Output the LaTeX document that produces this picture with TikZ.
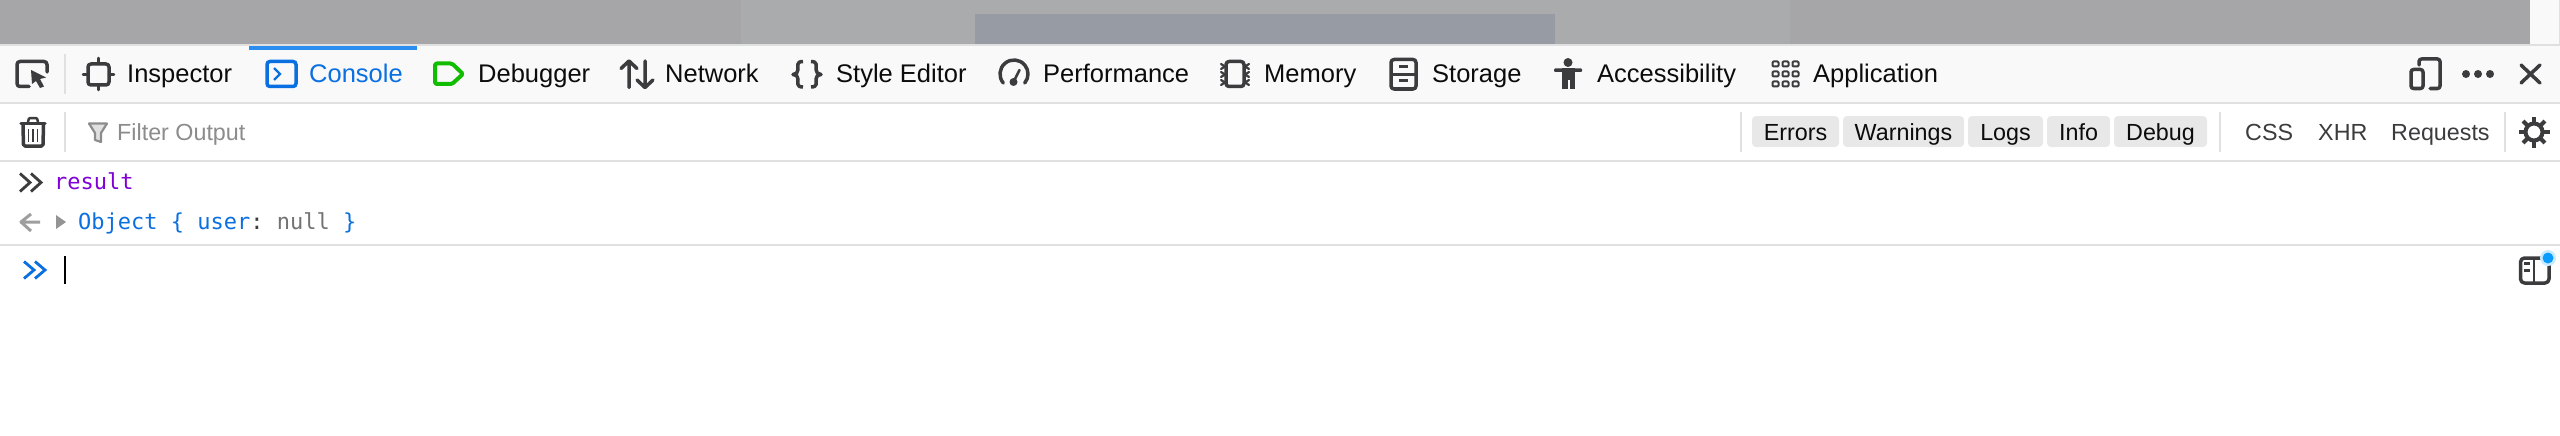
\documentclass[tikz,border=0pt]{standalone}
\usepackage{fontspec}
\setmainfont{Liberation Sans}
\setmonofont{DejaVu Sans Mono}
\definecolor{barbg}{HTML}{F9F9FA}
\definecolor{rulegray}{HTML}{E0E0E1}
\definecolor{icondark}{HTML}{3C3C3E}
\definecolor{tabtext}{HTML}{0C0C0D}
\definecolor{consoleblue}{HTML}{0A6FE0}
\definecolor{tabline}{HTML}{2A8DF0}
\definecolor{debuggreen}{HTML}{12BC00}
\definecolor{pagegray}{HTML}{AAABAD}
\definecolor{pagedark}{HTML}{A6A6A8}
\definecolor{pageblue}{HTML}{979BA3}
\definecolor{pillgray}{HTML}{E8E8E8}
\definecolor{purplekw}{HTML}{8000D7}
\definecolor{nullgray}{HTML}{737373}
\definecolor{dotblue}{HTML}{0A9DFF}
\definecolor{dothalo}{HTML}{C8EBFF}
\tikzset{
	tab/.style={anchor=base west, inner sep=0pt, text=tabtext, font=\fontsize{25.5}{28}\selectfont},
	filtertext/.style={anchor=base west, inner sep=0pt, text=icondark, font=\fontsize{23.3}{26}\selectfont},
	pill/.style={fill=pillgray, rounded corners=4pt, inner sep=0pt, minimum height=31pt, text=tabtext, text height=22pt, text depth=5pt, font=\fontsize{23.3}{26}\selectfont},
	codetext/.style={anchor=base west, inner sep=0pt, font=\ttfamily\fontsize{22}{26}\selectfont},
	icon/.style={draw=icondark, line width=3.5pt, line join=round, line cap=round},
	sep/.style={draw=rulegray, line width=2pt},
}
\begin{document}
\begin{tikzpicture}[x=1pt,y=-1pt]
		\useasboundingbox (0,0) rectangle (2560,436);
		\fill[white] (0,0) rectangle (2560,436);
		\fill[pagedark] (0,0) rectangle (2530,44);
		\fill[pagegray] (741,0) rectangle (1790,44);
		\fill[pageblue] (975,14) rectangle (1555,44);
		\fill[barbg] (2530,0) rectangle (2559,44);
		\fill[rulegray] (2559,0) rectangle (2560,44);
		\fill[barbg] (0,45) rectangle (2560,103);
		\draw[sep] (0,45) -- (2560,45);
		\draw[sep] (0,103) -- (2560,103);
		\draw[sep] (0,161) -- (2560,161);
		\draw[sep] (0,245) -- (2560,245);
		\fill[tabline] (249,46) rectangle (417,50);
		\draw[sep] (65,54) -- (65,94);
		\draw[sep] (65,112) -- (65,152);
		\draw[sep] (1741,112) -- (1741,152);
		\draw[sep] (2220,112) -- (2220,152);
		\draw[sep] (2505,112) -- (2505,152);

		\node at (127,83) [tab] (inspector) {Inspector};
		\node at (309,83) [tab, text=consoleblue] (console) {Console};
		\node at (478,83) [tab] (debugger) {Debugger};
		\node at (665,83) [tab] (network) {Network};
		\node at (836,83) [tab] (styleeditor) {Style Editor};
		\node at (1043,83) [tab] (performance) {Performance};
		\node at (1264,83) [tab] (memory) {Memory};
		\node at (1432,83) [tab] (storage) {Storage};
		\node at (1597,83) [tab] (accessibility) {Accessibility};
		\node at (1813,83) [tab] (application) {Application};

		\node at (117,140) [filtertext, text=black!45] (filter) {Filter Output};
		\node at (1795.5,131.5) [pill, minimum width=87pt] (errors) {Errors};
		\node at (1903.5,131.5) [pill, minimum width=121pt] (warnings) {Warnings};
		\node at (2005.5,131.5) [pill, minimum width=75pt] (logs) {Logs};
		\node at (2078.5,131.5) [pill, minimum width=63pt] (info) {Info};
		\node at (2160.5,131.5) [pill, minimum width=93pt] (debug) {Debug};
		\node at (2245,140) [filtertext] (css) {CSS};
		\node at (2318,140) [filtertext] (xhr) {XHR};
		\node at (2391,140) [filtertext] (requests) {Requests};

		\node at (54,189.3) [codetext, text=purplekw] (result) {result};
		\node at (78,229.3) [codetext, text=consoleblue] (object) {Object \{ user\textcolor{icondark}{:} \textcolor{nullgray}{null} \}};

		% toolbar icons
		\draw[icon, rounded corners=3pt] (29,86.5) -- (17,86.5) -- (17,61.5) -- (47,61.5) -- (47,72);
		\fill[icondark] (31,70) -- (46,77.5) -- (40,79) -- (44,86.5) -- (40,88) -- (36,81) -- (32,84) -- cycle;
		\draw[icon, rounded corners=3pt] (88,64) rectangle (109,85);
		\draw[icon, line width=2.5pt] (98.5,58) -- (98.5,64) (98.5,85) -- (98.5,90) (83,74.5) -- (88,74.5) (109,74.5) -- (114,74.5);
		\draw[draw=consoleblue, line width=3.5pt, rounded corners=3pt] (267,61.5) rectangle (296,86.5);
		\draw[draw=consoleblue, line width=2.2pt] (274,68) -- (280,74) -- (274,80);
		\draw[draw=debuggreen, line width=4pt, line join=round, rounded corners=1.5pt] (435,63.5) -- (452,63.5) -- (463,74) -- (452,84) -- (435,84) -- cycle;
		\draw[icon] (629,87.5) -- (629,62) (621,68.5) -- (629,61) -- (637,68.5);
		\draw[icon] (645,61) -- (645,86.5) (637,80) -- (645,87.5) -- (653,80);
		\draw[icon, line cap=butt] (803,61.5) .. controls (796,61.5) and (798,66) .. (798,69.5) .. controls (798,72.5) and (796,74.5) .. (793,74.5) .. controls (796,74.5) and (798,76) .. (798,79) .. controls (798,82.5) and (796,87) .. (803,87);
		\draw[icon, line cap=butt] (811,61.5) .. controls (818,61.5) and (816,66) .. (816,69.5) .. controls (816,72.5) and (818,74.5) .. (821,74.5) .. controls (818,74.5) and (816,76) .. (816,79) .. controls (816,82.5) and (818,87) .. (811,87);
		\draw[icon] (1014,74) ++(220:14pt) arc[start angle=220, end angle=-40, radius=14pt];
		\fill[icondark] (1013.5,82) circle (4pt);
		\draw[icon, line width=2.5pt] (1013.5,82) -- (1019.5,70);
		\draw[icon, rounded corners=3pt] (1226,61.5) rectangle (1244,86.5);
		\foreach \ylegs in {66.5,74.5,82.5}
			\draw[icon, line width=2.2pt] (1221,\ylegs-2.5) -- (1225,\ylegs) -- (1221,\ylegs+2.5) (1249,\ylegs-2.5) -- (1245,\ylegs) -- (1249,\ylegs+2.5);
		\draw[icon, rounded corners=3pt] (1391,59.5) rectangle (1416,89);
		\draw[icon, line width=3pt, line cap=butt] (1391,74.5) -- (1416,74.5);
		\draw[icon, line width=2.5pt, line cap=butt] (1399,66.7) -- (1408,66.7) (1399,80.5) -- (1408,80.5);
		\fill[icondark] (1568,62.5) circle (4.5pt);
		\fill[icondark, rounded corners=1pt] (1554,68.5) rectangle (1582,72);
		\fill[icondark] (1562,68.5) rectangle (1575,80);
		\fill[icondark] (1562,79) rectangle (1567.5,89);
		\fill[icondark] (1569.5,79) rectangle (1575,89);
		\foreach \xcell in {1772.5,1782.5,1792.5}
			\foreach \ycell in {61.5,71.5,81.5}
				\draw[icon, line width=2pt, rounded corners=1pt] (\xcell,\ycell) rectangle ++(6,5);
		\draw[icon, rounded corners=2.5pt] (2419,65) -- (2419,59) -- (2440,59) -- (2440,88.5) -- (2430,88.5);
		\draw[icon, rounded corners=2.5pt] (2411,69.5) rectangle (2423,88.5);
		\foreach \xdot in {2466,2478,2490}
			\fill[icondark] (\xdot,74) circle (4pt);
		\draw[icon] (2521,65) -- (2540,83) (2540,65) -- (2521,83);

		% filter row icons
		\draw[icon, line cap=butt, rounded corners=1.5pt] (23,125) -- (23.5,146) -- (43,146) -- (43.5,125);
		\draw[icon] (21,123.5) -- (45,123.5);
		\draw[icon, line width=2.5pt, rounded corners=1pt] (28,122) -- (29,118) -- (37,118) -- (38,122);
		\foreach \xbar in {28.5,33,37.5}
			\draw[icondark, line width=1.5pt] (\xbar,129) -- (\xbar,142);
		\draw[draw=black!45, fill=black!12, line width=2.2pt, line join=round] (89,123.5) -- (107,123.5) -- (101,133) -- (101,142) -- (95,140) -- (95,133) -- cycle;
		\draw[icondark, line width=4pt] (2534,132) circle (8.5pt);
		\foreach \agear in {0,45,...,315}
			\draw[icondark, line width=4pt] (2534,132) ++(\agear:9pt) -- ++(\agear:6.5pt);

		% console rows
		\foreach \xchev in {20,31}
			\draw[icon, line width=2.8pt, line cap=butt, line join=miter] (\xchev,173.5) -- (\xchev+10,182.5) -- (\xchev,191.5);
		\draw[draw=black!38, line width=3pt, line join=round] (40,222) -- (22,222) (31,214) -- (21,222) -- (31,231);
		\fill[black!42] (56,215) -- (66,222) -- (56,229) -- cycle;
		\foreach \xchev in {24,35}
			\draw[draw=consoleblue, line width=2.8pt, line join=miter] (\xchev,261.5) -- (\xchev+10,270) -- (\xchev,278.5);
		\draw[black, line width=2pt] (65,256) -- (65,284);
		\draw[icon, rounded corners=4pt] (2520.5,258) rectangle (2549,283);
		\draw[icon, line width=2.5pt, line cap=butt] (2534,258) -- (2534,283);
		\draw[icon, line width=2.2pt, line cap=butt] (2524,263.5) -- (2530,263.5) (2524,270.5) -- (2530,270.5);
		\fill[dothalo] (2548,258) circle (8pt);
		\fill[dotblue] (2548,258) circle (5.5pt);
		\end{tikzpicture}
\end{document}
